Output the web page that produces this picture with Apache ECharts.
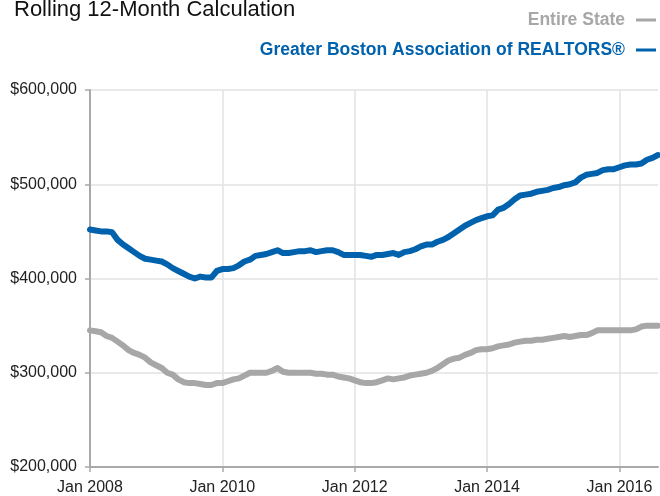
<!DOCTYPE html>
<html>
<head>
<meta charset="utf-8">
<script src="https://cdn.jsdelivr.net/npm/echarts@6/dist/echarts.min.js"></script>
<style>
html,body{margin:0;padding:0;background:#fff;}
#chart{width:660px;height:496px;}
</style>
</head>
<body>
<div id="chart"></div>
<script>
// Monthly categories Jan 2008 .. Aug 2016
const monthNames = ['Jan','Feb','Mar','Apr','May','Jun','Jul','Aug','Sep','Oct','Nov','Dec'];
const startYear = 2008;
const monthCount = 104;
const categories = [];
for (let i = 0; i < monthCount; i++) {
  categories.push(monthNames[i % 12] + ' ' + (startYear + Math.floor(i / 12)));
}
const xTickLabels = ['Jan 2008', 'Jan 2010', 'Jan 2012', 'Jan 2014', 'Jan 2016'];
const yMin = 200000, yMax = 600000, yStep = 100000;

const seriesNames = ['Entire State', 'Greater Boston Association of REALTORS®'];

// Entire State (rolling 12-month median, $)
const entireState = [
  345000,344000,343000,339000,337000,333000,329000,324000,321000,319000,316000,311000,
  308000,305000,300000,298000,293000,290000,289000,289000,288000,287000,287000,289000,
  289000,291000,293000,294000,297000,300000,300000,300000,300000,302000,305000,301000,
  300000,300000,300000,300000,300000,299000,299000,298000,298000,296000,295000,294000,
  292000,290000,289000,289000,290000,292000,294000,293000,294000,295000,297000,298000,
  299000,300000,302000,305000,309000,313000,315000,316000,319000,321000,324000,325000,
  325000,326000,328000,329000,330000,332000,333000,334000,334000,335000,335000,336000,
  337000,338000,339000,338000,339000,340000,340000,342000,345000,345000,345000,345000,
  345000,345000,345000,346000,349000,350000,350000,350000
];

// Greater Boston Association of REALTORS®
const greaterBoston = [
  452000,451000,450000,450000,449000,441000,436000,432000,428000,424000,421000,420000,
  419000,418000,415000,411000,408000,405000,402000,400000,402000,401000,401000,408000,
  410000,410000,411000,414000,418000,420000,424000,425000,426000,428000,430000,427000,
  427000,428000,429000,429000,430000,428000,429000,430000,430000,428000,425000,425000,
  425000,425000,424000,423000,425000,425000,426000,427000,425000,428000,429000,431000,
  434000,436000,436000,439000,441000,444000,448000,452000,456000,459000,462000,464000,
  466000,467000,473000,475000,479000,484000,488000,489000,490000,492000,493000,494000,
  496000,497000,499000,500000,502000,507000,510000,511000,512000,515000,516000,516000,
  518000,520000,521000,521000,522000,526000,528000,531000
];

const GRAY = '#a7a7a7';
const BLUE = '#0061ac';
const FONT = '"Liberation Sans", Arial, Helvetica, sans-serif';

const isTick = (idx) => xTickLabels.indexOf(categories[idx]) !== -1;

const chart = echarts.init(document.getElementById('chart'), null, {renderer: 'canvas'});
chart.setOption({
  animation: false,
  backgroundColor: '#fff',
  title: {
    text: 'Rolling 12-Month Calculation',
    left: 14, top: -1, padding: 0,
    textStyle: {fontFamily: FONT, fontSize: 22, fontWeight: 'normal', color: '#111'}
  },
  legend: {
    orient: 'vertical',
    right: 4, top: 11, padding: 0,
    align: 'right',
    itemGap: 12,
    itemWidth: 20, itemHeight: 3,
    icon: 'rect',
    selectedMode: false,
    textStyle: {fontFamily: FONT, fontSize: 17.5, fontWeight: 'bold', padding: [0, 6, 0, 0]},
    data: [
      {name: seriesNames[0], textStyle: {color: GRAY}},
      {name: seriesNames[1], textStyle: {color: BLUE}}
    ]
  },
  grid: {left: 90, right: 2, top: 90, bottom: 28, containLabel: false},
  xAxis: {
    type: 'category',
    data: categories,
    boundaryGap: false,
    axisLine: {lineStyle: {color: '#a9a9a9', width: 2}},
    axisTick: {show: true, interval: (i) => isTick(i), length: 5, lineStyle: {color: '#a9a9a9', width: 1.5}},
    axisLabel: {interval: (i) => isTick(i), margin: 13, fontFamily: FONT, fontSize: 16, color: '#222'},
    splitLine: {show: true, interval: (i) => isTick(i), lineStyle: {color: '#e2e2e2', width: 1.5}}
  },
  yAxis: {
    type: 'value',
    min: yMin, max: yMax, interval: yStep,
    axisLine: {show: true, lineStyle: {color: '#a9a9a9', width: 2}},
    axisTick: {show: true, length: 5, lineStyle: {color: '#a9a9a9', width: 1.5}},
    axisLabel: {
      margin: 13, fontFamily: FONT, fontSize: 16, color: '#222',
      formatter: (v) => '$' + v.toLocaleString('en-US')
    },
    splitLine: {show: true, lineStyle: {color: '#e2e2e2', width: 1.5}}
  },
  series: [
    {
      name: seriesNames[0], type: 'line', data: entireState,
      symbol: 'none', color: GRAY,
      lineStyle: {color: GRAY, width: 6, join: 'round', cap: 'round'}
    },
    {
      name: seriesNames[1], type: 'line', data: greaterBoston,
      symbol: 'none', color: BLUE,
      lineStyle: {color: BLUE, width: 6, join: 'round', cap: 'round'}
    }
  ]
});
</script>
</body>
</html>
